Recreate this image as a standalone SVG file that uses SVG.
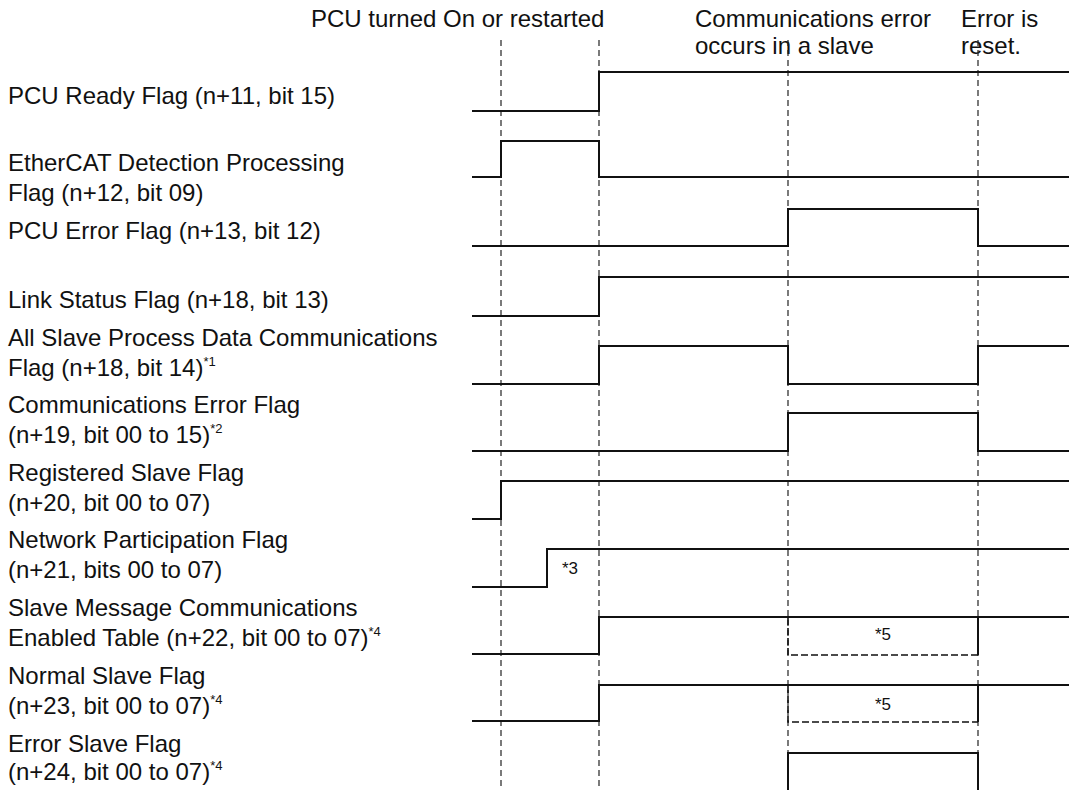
<svg xmlns="http://www.w3.org/2000/svg" width="1069" height="790" viewBox="0 0 1069 790">
<style>
text{font-family:"Liberation Sans",Arial,sans-serif;fill:#111}
.lbl{font-size:24px}
.hdr{font-size:24px}
.sup{font-size:13px}
.note{font-size:17px}
.guide{stroke:#222;stroke-width:1.2;stroke-dasharray:6 4;fill:none}
.sig{stroke:#111;stroke-width:2;fill:none}
.box{stroke:#111;stroke-width:1.6;stroke-dasharray:7 3;fill:none}
</style>
<rect width="1069" height="790" fill="#fff"/>
<g id="headers">
<text class="hdr" x="311" y="27">PCU turned On or restarted</text>
<text class="hdr" x="695" y="27">Communications error</text>
<text class="hdr" x="695" y="54">occurs in a slave</text>
<text class="hdr" x="961" y="27">Error is</text>
<text class="hdr" x="961" y="54">reset.</text>
</g>
<g id="guides">
<line class="guide" x1="501" y1="40" x2="501" y2="790"/>
<line class="guide" x1="599" y1="40" x2="599" y2="790"/>
<line class="guide" x1="788" y1="40" x2="788" y2="790"/>
<line class="guide" x1="978" y1="40" x2="978" y2="790"/>
</g>
<g id="labels">
<text class="lbl" x="8" y="104">PCU Ready Flag (n+11, bit 15)</text>
<text class="lbl" x="8" y="171">EtherCAT Detection Processing</text>
<text class="lbl" x="8" y="201">Flag (n+12, bit 09)</text>
<text class="lbl" x="8" y="239">PCU Error Flag (n+13, bit 12)</text>
<text class="lbl" x="8" y="308">Link Status Flag (n+18, bit 13)</text>
<text class="lbl" x="8" y="346">All Slave Process Data Communications</text>
<text class="lbl" x="8" y="376">Flag (n+18, bit 14)<tspan class="sup" dy="-10">*1</tspan></text>
<text class="lbl" x="8" y="413">Communications Error Flag</text>
<text class="lbl" x="8" y="443">(n+19, bit 00 to 15)<tspan class="sup" dy="-10">*2</tspan></text>
<text class="lbl" x="8" y="481">Registered Slave Flag</text>
<text class="lbl" x="8" y="511">(n+20, bit 00 to 07)</text>
<text class="lbl" x="8" y="548">Network Participation Flag</text>
<text class="lbl" x="8" y="578">(n+21, bits 00 to 07)</text>
<text class="lbl" x="8" y="616">Slave Message Communications</text>
<text class="lbl" x="8" y="646">Enabled Table (n+22, bit 00 to 07)<tspan class="sup" dy="-10">*4</tspan></text>
<text class="lbl" x="8" y="684">Normal Slave Flag</text>
<text class="lbl" x="8" y="714">(n+23, bit 00 to 07)<tspan class="sup" dy="-10">*4</tspan></text>
<text class="lbl" x="8" y="752">Error Slave Flag</text>
<text class="lbl" x="8" y="780">(n+24, bit 00 to 07)<tspan class="sup" dy="-10">*4</tspan></text>
</g>
<g id="signals">
<polyline id="sig-ready" class="sig" points="472,111 599,111 599,72 1069,72"/>
<polyline id="sig-ethercat" class="sig" points="472,177 501,177 501,141 599,141 599,177 1069,177"/>
<polyline id="sig-pcuerr" class="sig" points="472,246 788,246 788,209 978,209 978,246 1069,246"/>
<polyline id="sig-link" class="sig" points="472,316 599,316 599,277 1069,277"/>
<polyline id="sig-allslave" class="sig" points="472,384 599,384 599,346 788,346 788,384 978,384 978,346 1069,346"/>
<polyline id="sig-commerr" class="sig" points="472,451 788,451 788,413 978,413 978,451 1069,451"/>
<polyline id="sig-registered" class="sig" points="472,519 501,519 501,481 1069,481"/>
<polyline id="sig-network" class="sig" points="472,587 547,587 547,549 1069,549"/>
<polyline id="sig-slavemsg" class="sig" points="472,654 599,654 599,617 1069,617"/>
<polyline id="sig-normal" class="sig" points="472,721 599,721 599,685 1069,685"/>
<polyline id="sig-errslave" class="sig" points="788,792 788,753 978,753 978,792"/>
</g>
<g id="notes">
<text class="note" x="562" y="574">*3</text>
<path class="box" d="M788,618 V655 H978"/>
<line class="sig" x1="978" y1="617" x2="978" y2="655" stroke-width="1.6"/>
<text class="note" x="875" y="640">*5</text>
<path class="box" d="M788,686 V722 H978"/>
<line class="sig" x1="978" y1="685" x2="978" y2="722" stroke-width="1.6"/>
<text class="note" x="875" y="710">*5</text>
</g>
</svg>
